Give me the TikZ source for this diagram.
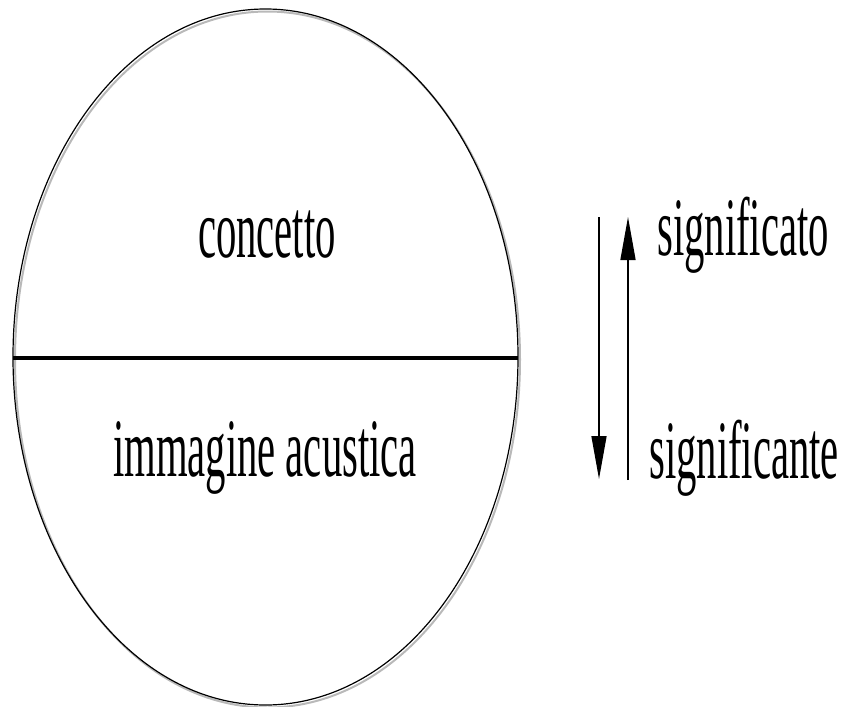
\documentclass[tikz,border=0pt]{standalone}
\usepackage{fontspec}
\newfontfamily\signfont{Liberation Serif}[FakeStretch=0.49]
\usetikzlibrary{arrows.meta}
\begin{document}
\begin{tikzpicture}[
    x=1pt, y=-1pt,
    label/.style={font=\signfont\fontsize{83}{90}\selectfont, inner sep=0pt},
    arr/.style={-{Triangle[length=43pt,width=15pt]}, line width=1.5pt}
]
    \useasboundingbox (0,0) rectangle (849,707);

    % the sign
    \draw[gray!55, line width=2pt] (267.5,359.5) ellipse [x radius=252.5, y radius=348];
    \draw[line width=1.2pt] (265.5,357) ellipse [x radius=252.5, y radius=348];
    \coordinate (left) at (13,358);
    \coordinate (right) at (518,358);
    \draw[line width=3.5pt] (left) -- (right);

    \node[label, anchor=base] (concept) at (267,257) {concetto};
    \node[label, anchor=base] (image) at (265,476) {immagine acustica};

    % the two directions
    \coordinate (downtop) at (599,217);
    \coordinate (downend) at (599,479);
    \coordinate (upbottom) at (628,480);
    \coordinate (uptop) at (628,217);
    \draw[arr] (downtop) -- (downend);
    \draw[arr] (upbottom) -- (uptop);

    \node[label, anchor=base west] (signified) at (657,255) {significato};
    \node[label, anchor=base west] (signifier) at (649,478) {significante};
\end{tikzpicture}
\end{document}
